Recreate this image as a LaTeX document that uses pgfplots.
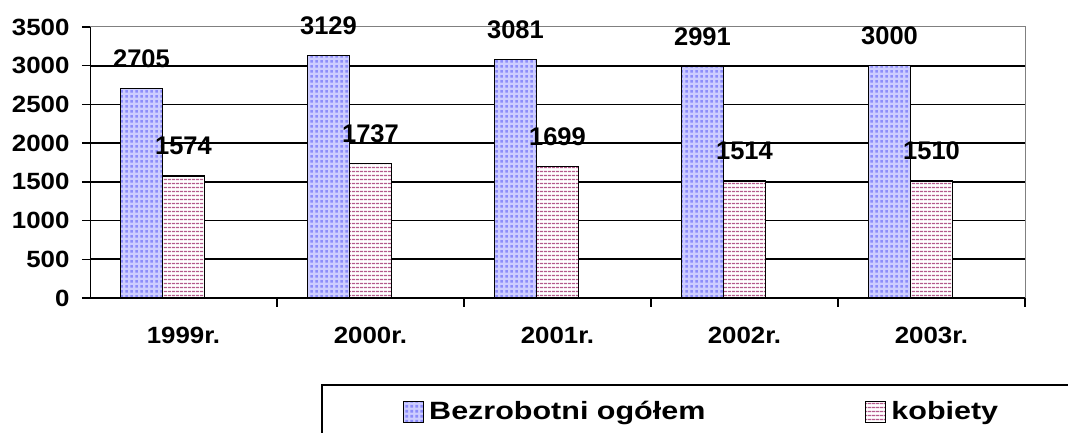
\documentclass[border=0pt]{standalone}
\usepackage{pgfplots}
\pgfplotsset{compat=1.18}
\usepackage{fontspec}
\setmainfont{Liberation Sans}
\newfontfamily\tickfont[FakeStretch=1.1]{Liberation Sans}
\newfontfamily\legfont[FakeStretch=1.22]{Liberation Sans}
\usetikzlibrary{patterns.meta}
\definecolor{bluebg}{RGB}{205,205,255}
\definecolor{bluedot}{RGB}{140,140,250}
\definecolor{pinkline}{RGB}{180,90,140}
\tikzdeclarepattern{
  name=bluedots,
  type=uncolored,
  bottom left={(0pt,0pt)}, top right={(5pt,5pt)},
  tile size={(5pt,5pt)},
  code={\fill (0.5pt,0.5pt) rectangle (3.5pt,3.5pt);}
}
\tikzdeclarepattern{
  name=pinklines,
  type=uncolored,
  bottom left={(0pt,0pt)}, top right={(4pt,4pt)},
  tile size={(4pt,4pt)},
  code={\fill (0pt,1pt) rectangle (4pt,2.6pt);}
}
\pgfplotstableread{
x total women
0 2705 1574
1 3129 1737
2 3081 1699
3 2991 1514
4 3000 1510
}\datatab
\newcommand{\tf}{\tickfont\fontsize{23.5}{28}\selectfont\bfseries}
\newcommand{\lf}{\fontsize{25.5}{30}\selectfont\bfseries}
\newcommand{\legf}{\legfont\fontsize{25}{30}\selectfont\bfseries}
\begin{document}
\begin{tikzpicture}
\useasboundingbox (0,0) rectangle (1068pt,433pt);
\begin{axis}[
  at={(90pt,135pt)}, anchor=south west,
  scale only axis, width=935pt, height=271pt,
  xmin=-0.5, xmax=4.5, ymin=0, ymax=3500,
  ybar, bar width=42pt,
  xtick={0,1,2,3,4},
  xticklabels={1999r.,2000r.,2001r.,2002r.,2003r.},
  major x tick style={draw=none},
  minor xtick={0.5,1.5,2.5,3.5,4.5},
  minor x tick style={black, line width=1.5pt},
  minor tick length=9pt,
  ytick={0,500,...,3000},
  extra y ticks={3500},
  extra y tick style={grid=none},
  ymajorgrids,
  major grid style={black, line width=1.6pt},
  y tick style={black, line width=1.5pt},
  major tick length=8pt,
  tick align=outside,
  xtick pos=bottom, ytick pos=left,
  axis line style={draw=gray, line width=1pt},
  tick label style={font=\tf},
  xticklabel style={yshift=-18pt},
  yticklabel style={xshift=-9pt},
  /pgf/number format/.cd, 1000 sep={}, assume math mode=true, /pgfplots/.cd,
  nodes near coords,
  nodes near coords style={font=\lf, anchor=center, yshift=30pt},
  legend columns=2,
  legend style={at={(0.3348,-0.419)}, anchor=west, draw=none, fill=none,
    inner sep=0pt, font=\legf,
    nodes={inner sep=0pt},
    /tikz/every odd column/.append style={column sep=5pt},
    /tikz/every even column/.append style={column sep=160pt}},
  legend image code/.code={\draw[#1, line width=1pt] (0pt,-10.5pt) rectangle (20pt,10.5pt);},
]
\addplot[bar shift=-42pt, draw=black, line width=1.5pt, fill=bluebg,
  postaction={pattern=bluedots, pattern color=bluedot}]
  table[x=x, y=total] {\datatab};
\addplot[bar shift=0pt, draw=black, line width=1.5pt, fill=white,
  postaction={pattern=pinklines, pattern color=pinkline}]
  table[x=x, y=women] {\datatab};
\legend{Bezrobotni ogółem, kobiety}
\draw[black, line width=1.8pt] (rel axis cs:0,1) -- (rel axis cs:0,0) -- (rel axis cs:1,0);
\end{axis}
\fill[white] (1040pt,0pt) rectangle (1068pt,46.5pt);
\draw[black, line width=2pt] (1068pt,48pt) -- (322pt,48pt) -- (322pt,0pt);
\end{tikzpicture}
\end{document}
